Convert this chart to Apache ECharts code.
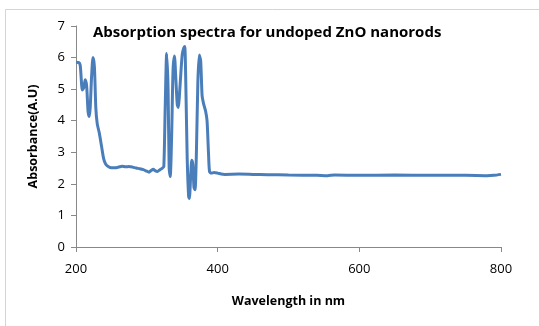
<!DOCTYPE html>
<html>
<head>
<meta charset="utf-8">
<script src="https://cdn.jsdelivr.net/npm/echarts@6/dist/echarts.min.js"></script>
<style>
  html, body { margin: 0; padding: 0; background: #fff; }
  #chart { width: 539px; height: 326px; }
</style>
</head>
<body>
<div id="chart"></div>
<script>
// wavelength (nm) and absorbance
const wavelength = [
  200, 204, 206, 209, 211, 213, 215, 217, 218.5, 220, 222, 224, 226, 228, 230, 233, 236, 239, 242, 246,
  250, 255, 260, 265, 270, 275, 280, 285, 290, 295, 300, 303, 306, 309, 312, 315, 318, 322, 324,
  326, 328, 330, 331.5, 333, 335, 337, 339, 341, 343, 344.5, 346, 348, 350, 352, 353.5, 355, 357,
  359, 360, 362, 363.5, 365, 366.5, 368, 370, 372, 374, 376, 378, 380, 383, 385, 387, 388.5,
  391, 395, 400, 405, 410, 430, 450, 470, 500, 540, 555, 565, 600, 650, 700, 750, 780, 790, 800
]
const absorbance = [
  5.85, 5.84, 5.75, 4.97, 5.05, 5.3, 5.1, 4.3, 4.13, 4.4, 5.4, 6.0, 5.7, 4.4, 3.9, 3.6, 3.2, 2.8, 2.62, 2.54,
  2.51, 2.51, 2.53, 2.56, 2.54, 2.55, 2.53, 2.5, 2.48, 2.45, 2.4, 2.37, 2.42, 2.46, 2.41, 2.39, 2.44, 2.5, 2.55,
  4.5, 6.13, 5.0, 2.5, 2.23, 3.5, 5.6, 6.05, 5.3, 4.5, 4.42, 4.8, 5.5, 6.1, 6.3, 6.35, 5.2, 2.8,
  1.6, 1.54, 2.3, 2.75, 2.6, 1.9, 1.81, 3.0, 5.2, 6.08, 5.9, 4.8, 4.55, 4.3, 4.0, 3.0, 2.39,
  2.34, 2.36, 2.34, 2.31, 2.3, 2.31, 2.3, 2.29, 2.28, 2.27, 2.26, 2.28, 2.27, 2.28, 2.27, 2.27, 2.26, 2.27, 2.3
]
const xTicks = [200, 400, 600, 800]
const yMax = 7

const chart = echarts.init(document.getElementById('chart'))
const font = '"Open Sans", Lato, sans-serif'

chart.setOption({
  animation: false,
  backgroundColor: '#fff',
  graphic: [
    {
      type: 'rect',
      shape: { x: 5.5, y: 9.5, width: 600, height: 400 },
      style: { fill: 'none', stroke: '#d4d4d4', lineWidth: 1 },
      silent: true
    }
  ],
  title: {
    text: 'Absorption spectra for undoped ZnO nanorods',
    left: 88,
    top: 20,
    textStyle: { fontFamily: font, fontSize: 15, fontWeight: 'bold', color: '#000' }
  },
  grid: { left: 76, right: 38, top: 26, bottom: 79 },
  xAxis: {
    type: 'value',
    min: xTicks[0],
    max: xTicks[xTicks.length - 1],
    interval: 200,
    name: 'Wavelength in nm',
    nameLocation: 'middle',
    nameGap: 48,
    nameTextStyle: { fontFamily: font, fontSize: 12.5, fontWeight: 'bold', color: '#000' },
    axisLine: { lineStyle: { color: '#888', width: 1 } },
    axisTick: { show: true, inside: false, length: 5, lineStyle: { color: '#888' } },
    axisLabel: { fontFamily: font, fontSize: 13, color: '#000', margin: 16 },
    splitLine: { show: false }
  },
  yAxis: {
    type: 'value',
    min: 0,
    max: yMax,
    interval: 1,
    name: 'Absorbance(A.U)',
    nameLocation: 'middle',
    nameGap: 36,
    nameTextStyle: { fontFamily: font, fontSize: 12.5, fontWeight: 'bold', color: '#000' },
    axisLine: { show: true, lineStyle: { color: '#888', width: 1 } },
    axisTick: { show: true, inside: false, length: 5, lineStyle: { color: '#888' } },
    axisLabel: { fontFamily: font, fontSize: 13, color: '#000', margin: 11 },
    splitLine: { show: false }
  },
  series: [
    {
      type: 'line',
      data: wavelength.map((w, i) => [w, absorbance[i]]),
      showSymbol: false,
      smooth: 0.25,
      lineStyle: { color: '#4a7ebb', width: 3 },
      itemStyle: { color: '#4a7ebb' }
    }
  ]
})
</script>
</body>
</html>
